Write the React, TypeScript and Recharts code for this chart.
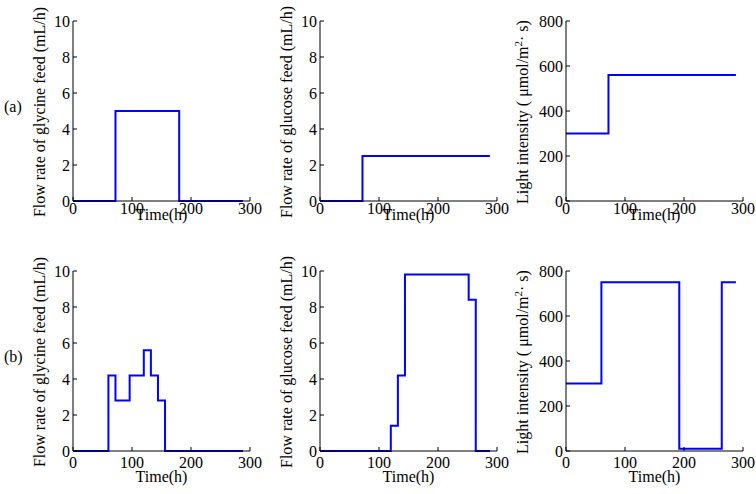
import { LineChart, Line, XAxis, YAxis, Label } from 'recharts';

// switching times (h) and set-point values for every panel
const glycineA_t = [0, 72, 180, 288];
const glycineA_v = [0, 5, 0, 0];

const glucoseA_t = [0, 72, 288];
const glucoseA_v = [0, 2.5, 2.5];

const lightA_t = [0, 72, 288];
const lightA_v = [300, 560, 560];

const glycineB_t = [0, 60, 72, 96, 120, 132, 144, 156, 288];
const glycineB_v = [0, 4.2, 2.8, 4.2, 5.6, 4.2, 2.8, 0, 0];

const glucoseB_t = [0, 120, 132, 144, 252, 264, 288];
const glucoseB_v = [0, 1.4, 4.2, 9.8, 8.4, 0, 0];

const lightB_t = [0, 60, 192, 264, 288];
const lightB_v = [300, 750, 10, 750, 750];

const timeTicks = [0, 100, 200, 300];
const flowTicks = [0, 2, 4, 6, 8, 10];
const lightTicks = [0, 200, 400, 600, 800];

const FONT = 'Liberation Serif';
const PLOT_W = 177;
const PLOT_H = 180;
const Y_AXIS_W = 70;
const X_AXIS_H = 45;
const TOP_PAD = 30;
const RIGHT_PAD = 20;

const toRows = (t: number[], v: number[]) => t.map((x, i) => ({ t: x, v: v[i] }));

const XTick = (p: any) => (
  <text x={p.x} y={p.y} dy="0.71em" textAnchor="middle" fontFamily={FONT} fontSize={16} fill="#000">
    {p.payload.value}
  </text>
);

const YTick = (p: any) => (
  <text x={p.x} y={p.y} dy="0.355em" textAnchor="end" fontFamily={FONT} fontSize={16} fill="#000">
    {p.payload.value}
  </text>
);

type YLabelKind = 'glycine' | 'glucose' | 'light';

function YLabelText({ kind, cx, cy }: { kind: YLabelKind; cx: number; cy: number }) {
  const common = {
    x: cx,
    y: cy,
    transform: `rotate(-90, ${cx}, ${cy})`,
    textAnchor: 'middle' as const,
    fontFamily: FONT,
    fontSize: 16,
    fill: '#000',
  };
  if (kind === 'light') {
    return (
      <text {...common}>
        <tspan>Light intensity ( μmol/m</tspan>
        <tspan dy={-6} fontSize={11}>2</tspan>
        <tspan dy={6}>· s)</tspan>
      </text>
    );
  }
  return (
    <text {...common}>
      {kind === 'glycine' ? 'Flow rate of glycine feed (mL/h)' : 'Flow rate of glucose feed (mL/h)'}
    </text>
  );
}

interface PanelProps {
  left: number;
  top: number;
  t: number[];
  v: number[];
  yMax: number;
  yTicks: number[];
  kind: YLabelKind;
  labelGap: number;
  tickGap: number;
  timeGap: number;
}

function Panel({ left, top, t, v, yMax, yTicks, kind, labelGap, tickGap, timeGap }: PanelProps) {
  const data = toRows(t, v);
  return (
    <div style={{ position: 'absolute', left: left - Y_AXIS_W, top: top - TOP_PAD }}>
      <LineChart
        width={Y_AXIS_W + PLOT_W + RIGHT_PAD}
        height={TOP_PAD + PLOT_H + X_AXIS_H}
        data={data}
        margin={{ top: TOP_PAD, right: RIGHT_PAD, bottom: 0, left: 0 }}
      >
        <XAxis
          dataKey="t"
          type="number"
          domain={[0, 300]}
          ticks={timeTicks}
          interval={0}
          height={X_AXIS_H}
          tickSize={-4}
          tickMargin={tickGap}
          tick={<XTick />}
          axisLine={{ stroke: '#000' }}
          tickLine={{ stroke: '#000' }}
        >
          <Label
            content={(p: any) => {
              const vb = p.viewBox || { x: Y_AXIS_W, y: TOP_PAD + PLOT_H, width: PLOT_W };
              return (
                <text
                  x={vb.x + vb.width / 2}
                  y={vb.y + timeGap}
                  textAnchor="middle"
                  fontFamily={FONT}
                  fontSize={16}
                  fill="#000"
                >
                  Time(h)
                </text>
              );
            }}
          />
        </XAxis>
        <XAxis
          xAxisId="top"
          orientation="top"
          type="number"
          domain={[0, 300]}
          ticks={timeTicks}
          interval={0}
          height={0}
          tickSize={-4}
          tick={false}
          axisLine={{ stroke: '#000' }}
          tickLine={{ stroke: '#000' }}
        />
        <YAxis
          type="number"
          domain={[0, yMax]}
          ticks={yTicks}
          interval={0}
          width={Y_AXIS_W}
          tickSize={-4}
          tickMargin={7}
          tick={<YTick />}
          axisLine={{ stroke: '#000' }}
          tickLine={{ stroke: '#000' }}
        >
          <Label
            content={(p: any) => {
              const vb = p.viewBox || { x: 0, y: TOP_PAD, width: Y_AXIS_W, height: PLOT_H };
              return (
                <YLabelText kind={kind} cx={vb.x + vb.width - labelGap} cy={vb.y + vb.height / 2 + 1} />
              );
            }}
          />
        </YAxis>
        <YAxis
          yAxisId="right"
          orientation="right"
          type="number"
          domain={[0, yMax]}
          ticks={yTicks}
          interval={0}
          width={0}
          tickSize={-4}
          tick={false}
          axisLine={{ stroke: '#000' }}
          tickLine={{ stroke: '#000' }}
        />
        <Line
          type="stepAfter"
          dataKey="v"
          stroke="#0000ff"
          strokeWidth={2}
          dot={false}
          isAnimationActive={false}
        />
      </LineChart>
    </div>
  );
}

export default function App() {
  const rowA = 21;
  const rowB = 271;
  const cols = [73, 320, 566];
  return (
    <div
      style={{
        position: 'absolute',
        left: 0,
        top: 0,
        width: 756,
        height: 494,
        background: '#fff',
        fontFamily: FONT,
        overflow: 'hidden',
      }}
    >
      <div style={{ position: 'absolute', left: 4, top: 98, fontSize: 16 }}>(a)</div>
      <div style={{ position: 'absolute', left: 4, top: 348, fontSize: 16 }}>(b)</div>

      <Panel left={cols[0]} top={rowA} t={glycineA_t} v={glycineA_v} yMax={10} yTicks={flowTicks} kind="glycine" labelGap={28} tickGap={6} timeGap={19} />
      <Panel left={cols[1]} top={rowA} t={glucoseA_t} v={glucoseA_v} yMax={10} yTicks={flowTicks} kind="glucose" labelGap={28} tickGap={6} timeGap={19} />
      <Panel left={cols[2]} top={rowA} t={lightA_t} v={lightA_v} yMax={800} yTicks={lightTicks} kind="light" labelGap={38} tickGap={6} timeGap={19} />

      <Panel left={cols[0]} top={rowB} t={glycineB_t} v={glycineB_v} yMax={10} yTicks={flowTicks} kind="glycine" labelGap={28} tickGap={10} timeGap={31} />
      <Panel left={cols[1]} top={rowB} t={glucoseB_t} v={glucoseB_v} yMax={10} yTicks={flowTicks} kind="glucose" labelGap={28} tickGap={10} timeGap={31} />
      <Panel left={cols[2]} top={rowB} t={lightB_t} v={lightB_v} yMax={800} yTicks={lightTicks} kind="light" labelGap={38} tickGap={10} timeGap={31} />
    </div>
  );
}
